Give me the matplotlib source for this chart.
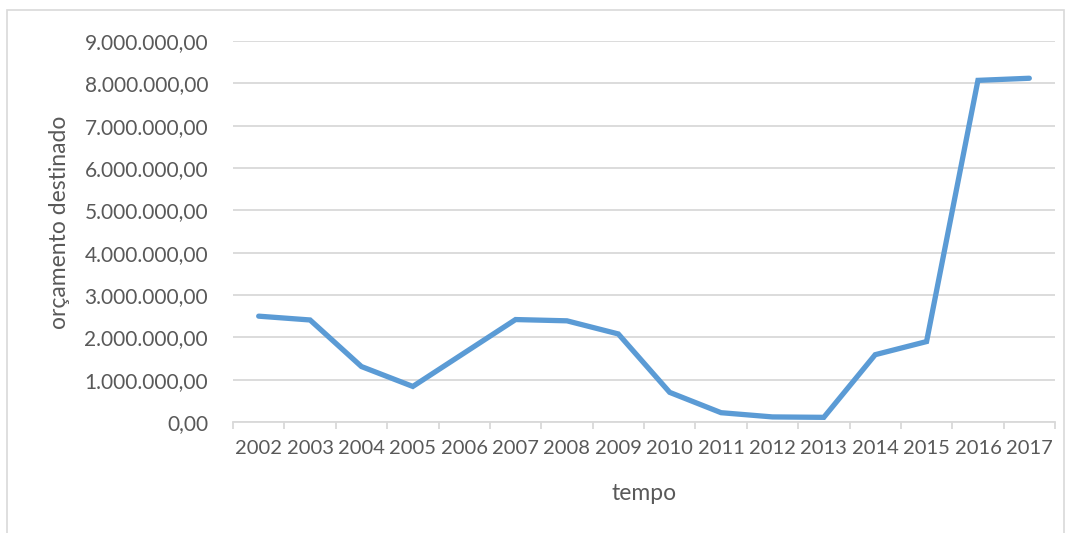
import numpy as np
import matplotlib.pyplot as plt
from matplotlib.ticker import FuncFormatter, FixedLocator
from matplotlib.patches import Rectangle

# dados
anos = ['2002', '2003', '2004', '2005', '2006', '2007', '2008', '2009',
        '2010', '2011', '2012', '2013', '2014', '2015', '2016', '2017']
orcamento = [2500000, 2410000, 1310000, 840000, 1630000, 2420000, 2390000, 2080000,
             700000, 220000, 120000, 110000, 1590000, 1900000, 8070000, 8120000]
yticks = [0, 1e6, 2e6, 3e6, 4e6, 5e6, 6e6, 7e6, 8e6, 9e6]

plt.rcParams['font.family'] = ['Lato', 'DejaVu Sans']
cinza_txt = '#595959'
cinza_grade = '#D9D9D9'
azul = '#5B9BD5'

W, H = 1070, 533
fig = plt.figure(figsize=(W / 100, H / 100), dpi=100)

# moldura externa estilo Excel
fig.patches.append(Rectangle((7 / W, -0.01), (1064 - 7) / W, 1 - 10 / H + 0.01,
                             transform=fig.transFigure, fill=False,
                             edgecolor=cinza_grade, linewidth=1.2))

ax = fig.add_axes([233 / W, 1 - 422 / H, (1055 - 233) / W, (422 - 41) / H])

x = np.arange(len(anos))
ax.plot(x, orcamento, color=azul, linewidth=3.8, solid_capstyle='round',
        solid_joinstyle='miter', zorder=3)

ax.set_xlim(-0.5, len(anos) - 0.5)
ax.set_ylim(0, 9e6)
ax.set_yticks(yticks)
ax.yaxis.set_major_formatter(FuncFormatter(
    lambda v, p: f"{v:,.2f}".replace(",", "X").replace(".", ",").replace("X", ".")))
ax.set_xticks(x)
ax.set_xticklabels(anos)
ax.xaxis.set_minor_locator(FixedLocator(np.arange(-0.5, len(anos), 1.0)))

ax.grid(axis='y', color=cinza_grade, linewidth=1.3, zorder=0)
for s in ['top', 'right', 'left']:
    ax.spines[s].set_visible(False)
ax.spines['bottom'].set_color(cinza_grade)
ax.spines['bottom'].set_linewidth(1.3)

ax.tick_params(axis='y', length=0, pad=18, labelsize=15, labelcolor=cinza_txt)
ax.tick_params(axis='x', which='major', length=0, pad=13, labelsize=14.5, labelcolor=cinza_txt)
ax.tick_params(axis='x', which='minor', length=5, width=1.3, color=cinza_grade)

ax.set_ylabel('orçamento destinado', fontsize=16.5, color=cinza_txt)
ax.yaxis.set_label_coords(-0.198, 0.525)
ax.set_xlabel('tempo', fontsize=16.5, color=cinza_txt, labelpad=19)

fig.savefig('out.png', dpi=100)
